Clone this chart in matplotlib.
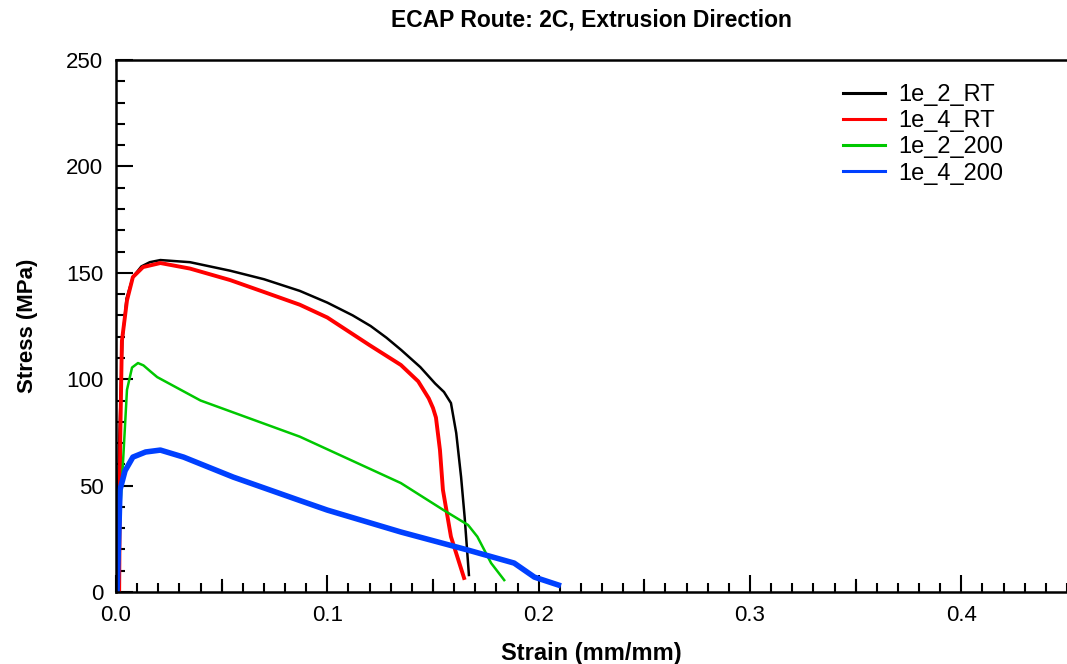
import numpy as np
import matplotlib.pyplot as plt
from matplotlib.ticker import MultipleLocator

plt.rcParams['font.family'] = ['Liberation Sans', 'DejaVu Sans']

# strain (mm/mm) / stress (MPa)
strain_2_rt = [0.0, 0.0015, 0.003, 0.005, 0.008, 0.012, 0.016, 0.021, 0.035, 0.054, 0.070,
               0.087, 0.100, 0.112, 0.1205, 0.128, 0.135, 0.144, 0.151, 0.1552, 0.1585,
               0.161, 0.1633, 0.165, 0.167]
stress_2_rt = [0.0, 70.0, 118.0, 138.0, 148.0, 153.0, 155.0, 156.0, 155.0, 151.0, 147.0,
               141.5, 136.0, 130.0, 125.0, 119.5, 113.7, 105.7, 98.0, 94.0, 88.8,
               74.7, 54.0, 35.0, 8.0]

strain_4_rt = [0.0015, 0.002, 0.0028, 0.0052, 0.008, 0.0128, 0.021, 0.035, 0.054, 0.070,
               0.087, 0.100, 0.120, 0.1348, 0.143, 0.148, 0.150, 0.1514, 0.1533, 0.1547,
               0.1585, 0.1647]
stress_4_rt = [0.0, 71.0, 118.0, 137.0, 148.0, 152.7, 154.6, 152.0, 146.6, 141.0,
               135.0, 129.0, 116.0, 106.7, 99.0, 91.0, 86.5, 82.0, 66.7, 48.0,
               26.0, 6.6]

strain_2_200 = [0.001, 0.0012, 0.0019, 0.0033, 0.0052, 0.0076, 0.0104, 0.013, 0.0165, 0.0195,
                0.040, 0.087, 0.1348, 0.155, 0.1666, 0.171, 0.1775, 0.1837]
stress_2_200 = [0.0, 21.0, 37.0, 60.6, 95.0, 105.5, 107.6, 106.5, 103.5, 101.0,
                90.0, 73.0, 51.2, 38.5, 31.5, 26.0, 13.6, 5.6]

strain_4_200 = [0.0005, 0.001, 0.0019, 0.0043, 0.008, 0.014, 0.021, 0.032, 0.0555, 0.087,
                0.100, 0.1348, 0.1666, 0.1884, 0.198, 0.2093]
stress_4_200 = [0.0, 16.0, 48.0, 57.0, 63.4, 65.8, 66.7, 63.4, 54.0, 43.0,
                38.5, 28.2, 19.7, 13.6, 7.0, 3.3]

fig = plt.figure(figsize=(10.67, 6.64), dpi=100)
ax = fig.add_axes([0.1087, 0.1084, 0.8913, 0.8012])

ax.plot(strain_2_rt, stress_2_rt, color='black', lw=1.8, label='1e_2_RT')
ax.plot(strain_4_rt, stress_4_rt, color='#ff0000', lw=2.8, label='1e_4_RT')
ax.plot(strain_2_200, stress_2_200, color='#00c800', lw=1.8, label='1e_2_200')
ax.plot(strain_4_200, stress_4_200, color='#0040ff', lw=4.0, label='1e_4_200')

ax.set_xlim(0, 0.45)
ax.set_ylim(0, 250)
ax.xaxis.set_major_locator(MultipleLocator(0.1))
ax.xaxis.set_minor_locator(MultipleLocator(0.01))
ax.yaxis.set_major_locator(MultipleLocator(50))
ax.yaxis.set_minor_locator(MultipleLocator(10))
ax.xaxis.set_major_formatter(plt.FuncFormatter(lambda v, p: '%.1f' % v))

ax.tick_params(which='major', direction='in', length=12.5, width=1.5, labelsize=16, pad=9,
               top=False, right=False)
ax.tick_params(which='minor', direction='in', length=6.5, width=1.5, top=False, right=False)
# medium ticks at 0.05
for xv in np.arange(0.05, 0.45, 0.1):
    ax.plot([xv, xv], [0, 250 * 12 / 532], color='black', lw=1.5, clip_on=False, zorder=3)

ax.spines['right'].set_visible(False)
for s in ['left', 'bottom', 'top']:
    ax.spines[s].set_linewidth(1.8)

ax.set_title('ECAP Route: 2C, Extrusion Direction', fontsize=16.5, fontweight='bold', pad=24)
ax.set_xlabel('Strain (mm/mm)', fontsize=17, fontweight='bold', labelpad=12)
ax.set_ylabel('Stress (MPa)', fontsize=16, fontweight='bold', labelpad=20)

leg = ax.legend(loc='upper left', bbox_to_anchor=(0.742, 0.995), frameon=False, fontsize=17,
                handlelength=1.8, handletextpad=0.55, labelspacing=0.18)
for line in leg.get_lines():
    line.set_linewidth(2.2)

fig.savefig('out.png', dpi=100)
